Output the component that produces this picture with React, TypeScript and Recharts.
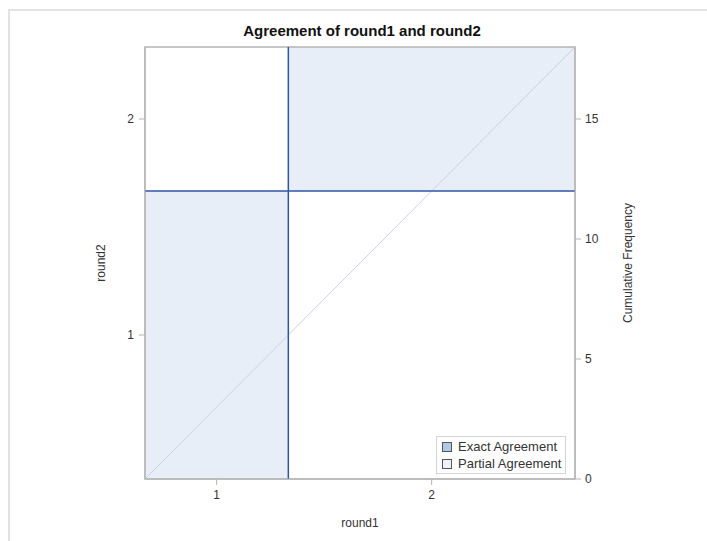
import React from 'react';
import {
  ComposedChart,
  Line,
  XAxis,
  YAxis,
  ReferenceArea,
  ReferenceLine,
  Legend,
  Label,
} from 'recharts';

// round1 (columns) and round2 (rows) categories with their marginal counts
const round1Levels = ['1', '2'];
const round2Levels = ['1', '2'];
const round1Totals = [6, 12];
const round2Totals = [12, 6];
const cumulativeTicks = [0, 5, 10, 15];

const total = round1Totals.reduce((a, b) => a + b, 0);

const cumulate = (arr: number[]) => {
  const out = [0];
  arr.forEach((v) => out.push(out[out.length - 1] + v));
  return out;
};
const xBounds = cumulate(round1Totals);
const yBounds = cumulate(round2Totals);
const xMids = round1Levels.map((_, i) => (xBounds[i] + xBounds[i + 1]) / 2);
const yMids = round2Levels.map((_, i) => (yBounds[i] + yBounds[i + 1]) / 2);

const diagonalData = [
  { x: 0, y: 0 },
  { x: total, y: total },
];

const FONT = 'Liberation Sans, Arial, sans-serif';
const AXIS_GRAY = '#b4b4b4';
const TEXT = '#333333';
const LINE_BLUE = '#2f55a6';
const CELL_FILL = '#e8eef8';

const legendItems = [
  { name: 'Exact Agreement', fill: '#b3c8e6' },
  { name: 'Partial Agreement', fill: '#eef2f8' },
];

function AgreementLegend() {
  return (
    <div
      style={{
        border: '1px solid #d4d4d4',
        background: '#fff',
        padding: '1px 4px 1px 5px',
        fontFamily: FONT,
        fontSize: 13,
        color: TEXT,
        lineHeight: '17px',
      }}
    >
      {legendItems.map((it) => (
        <div key={it.name} style={{ display: 'flex', alignItems: 'center' }}>
          <span
            style={{
              width: 8,
              height: 8,
              background: it.fill,
              border: '1px solid #555',
              marginRight: 6,
              display: 'inline-block',
            }}
          />
          {it.name}
        </div>
      ))}
    </div>
  );
}

export default function App() {
  return (
    <div style={{ position: 'absolute', left: 0, top: 0, width: 707, height: 541, background: '#fff' }}>
      <div
        style={{
          position: 'absolute',
          left: 8,
          top: 9,
          right: 0,
          bottom: 0,
          borderTop: '2px solid #e2e2e2',
          borderLeft: '2px solid #e2e2e2',
        }}
      />
      <div
        style={{
          position: 'absolute',
          left: 162,
          top: 22,
          width: 400,
          textAlign: 'center',
          fontFamily: FONT,
          fontWeight: 'bold',
          fontSize: 15,
          color: '#111',
        }}
      >
        Agreement of round1 and round2
      </div>
      <ComposedChart
        width={707}
        height={541}
        data={diagonalData}
        margin={{ top: 47, right: 26, bottom: 0, left: 57 }}
        style={{ position: 'absolute', left: 0, top: 0 }}
      >
        <XAxis
          dataKey="x"
          type="number"
          domain={[0, total]}
          ticks={xMids}
          tickFormatter={(v: number) => round1Levels[xMids.indexOf(v)]}
          height={62}
          tickSize={6}
          tickMargin={5}
          stroke={AXIS_GRAY}
          tick={{ fill: TEXT, fontSize: 12, fontFamily: FONT }}
        >
          <Label value="round1" position="insideBottom" offset={14} fill={TEXT} fontSize={12} fontFamily={FONT} />
        </XAxis>
        <YAxis
          yAxisId="left"
          type="number"
          domain={[0, total]}
          ticks={yMids}
          interval={0}
          tickFormatter={(v: number) => round2Levels[yMids.indexOf(v)]}
          width={88}
          tickSize={6}
          tickMargin={5}
          stroke={AXIS_GRAY}
          tick={{ fill: TEXT, fontSize: 12, fontFamily: FONT }}
        >
          <Label value="round2" angle={-90} position="center" fill={TEXT} fontSize={12} fontFamily={FONT} />
        </YAxis>
        <YAxis
          yAxisId="right"
          orientation="right"
          type="number"
          domain={[0, total]}
          ticks={cumulativeTicks}
          width={106}
          tickSize={6}
          tickMargin={4}
          stroke={AXIS_GRAY}
          tick={{ fill: TEXT, fontSize: 12, fontFamily: FONT }}
        >
          <Label value="Cumulative Frequency" angle={-90} position="center" fill={TEXT} fontSize={12} fontFamily={FONT} />
        </YAxis>
        {round1Levels.map((lvl, i) => (
          <ReferenceArea
            key={`cell-${lvl}`}
            yAxisId="right"
            x1={xBounds[i]}
            x2={xBounds[i + 1]}
            y1={yBounds[i]}
            y2={yBounds[i + 1]}
            fill={CELL_FILL}
            fillOpacity={1}
            stroke="none"
          />
        ))}
        <ReferenceArea
          yAxisId="right"
          x1={0}
          x2={total}
          y1={0}
          y2={total}
          fill="none"
          stroke={AXIS_GRAY}
          strokeWidth={1.5}
        />
        <Line
          yAxisId="left"
          dataKey="y"
          stroke="none"
          dot={false}
          activeDot={false}
          isAnimationActive={false}
          legendType="none"
        />
        <Line
          yAxisId="right"
          dataKey="y"
          stroke="#c9d2e4"
          strokeWidth={1}
          dot={false}
          activeDot={false}
          isAnimationActive={false}
          legendType="none"
        />
        {xBounds.slice(1, -1).map((b) => (
          <ReferenceLine key={`vx-${b}`} yAxisId="right" x={b} stroke={LINE_BLUE} strokeWidth={1.5} />
        ))}
        {yBounds.slice(1, -1).map((b) => (
          <ReferenceLine key={`hy-${b}`} yAxisId="right" y={b} stroke={LINE_BLUE} strokeWidth={1.5} />
        ))}
        <Legend
          layout="vertical"
          align="center"
          verticalAlign="middle"
          content={() => <AgreementLegend />}
          wrapperStyle={{ left: 436, top: 436, width: 'auto' }}
        />
      </ComposedChart>
    </div>
  );
}
